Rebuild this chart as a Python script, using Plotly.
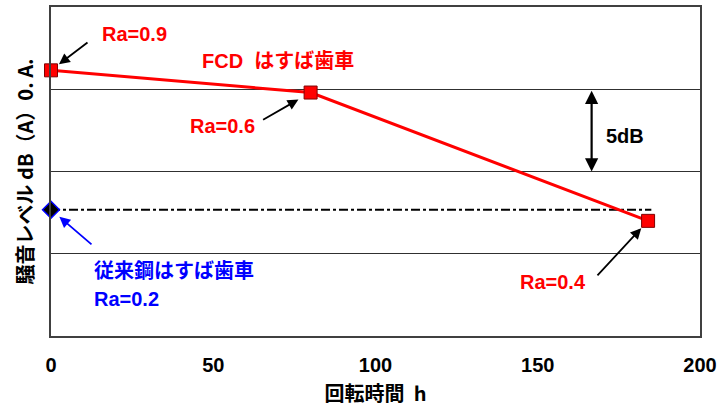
import plotly.graph_objects as go

# ---- data ----
fcd_hours = [0, 80, 184]
fcd_level = [16.15, 14.8, 7.0]
fcd_ra = ["Ra=0.9", "Ra=0.6", "Ra=0.4"]

conv_hours = [0]
conv_level = [7.68]
conv_ref_hours = [0, 185]
conv_ref_level = [7.68, 7.68]

x_ticks = [0, 50, 100, 150, 200]
y_grid = [0, 5, 10, 15, 20]

JP = "Liberation Sans, Noto Sans CJK JP"
JPB = "Noto Sans CJK JP"
RED = "#ff0000"
BLUE = "#0000ff"

fig = go.Figure()

fig.add_trace(go.Scatter(
    x=conv_ref_hours, y=conv_ref_level, mode="lines",
    line=dict(color="black", width=2, dash="dashdot"),
    showlegend=False, hoverinfo="skip"))

fig.add_trace(go.Scatter(
    x=fcd_hours, y=fcd_level, mode="lines+markers",
    line=dict(color=RED, width=3),
    marker=dict(symbol="square", size=13, color=RED,
                line=dict(color="#800000", width=1)),
    showlegend=False, cliponaxis=False))

fig.add_trace(go.Scatter(
    x=conv_hours, y=conv_level, mode="markers",
    marker=dict(symbol="diamond", size=13, color="black",
                line=dict(color=BLUE, width=1.5)),
    showlegend=False, cliponaxis=False))

ann = []
# arrows for FCD points (tail offsets in px)
arrow_offsets = [(38, -29, 10), (-49, 28, 14), (-52, 56, 10)]
for xv, yv, (ax, ay, so) in zip(fcd_hours, fcd_level, arrow_offsets):
    ann.append(dict(x=xv, y=yv, ax=ax, ay=ay, xref="x", yref="y",
                    showarrow=True, arrowhead=2, arrowsize=1.2,
                    arrowwidth=1.8, arrowcolor="black", standoff=so, text=""))
# Ra labels
ra_pos = [(25.6, 18.35), (52.7, 12.74), (154.7, 3.31)]
for (xv, yv), t in zip(ra_pos, fcd_ra):
    ann.append(dict(x=xv, y=yv, text=t, showarrow=False,
                    font=dict(family=JP, size=20, color=RED, weight="bold")))
ann.append(dict(x=69.8, y=16.7, text="FCD  はすば歯車", showarrow=False,
                font=dict(family=JP, size=20, color=RED, weight="bold")))
# conventional
ann.append(dict(x=conv_hours[0], y=conv_level[0], ax=42, ay=36, showarrow=True,
                arrowhead=2, arrowsize=1.2, arrowwidth=1.8, arrowcolor=BLUE,
                standoff=11, text=""))
ann.append(dict(x=12.6, y=3.98, xanchor="left", text="従来鋼はすば歯車",
                showarrow=False,
                font=dict(family=JP, size=20, color=BLUE, weight="bold")))
ann.append(dict(x=12.6, y=2.26, xanchor="left", text="Ra=0.2",
                showarrow=False,
                font=dict(family=JP, size=20, color=BLUE, weight="bold")))
# 5dB scale arrow
ann.append(dict(x=166.6, y=10, ax=166.6, ay=15, axref="x", ayref="y",
                showarrow=True, arrowhead=2, startarrowhead=2, arrowside="end+start",
                arrowsize=1.2, arrowwidth=2.2, arrowcolor="black", text=""))
ann.append(dict(x=170.4, y=12.13, xanchor="left", text="5dB", showarrow=False,
                font=dict(family=JP, size=20, color="black", weight="bold")))

fig.update_layout(
    width=725, height=407,
    margin=dict(l=51, r=25, t=7, b=71),
    paper_bgcolor="white", plot_bgcolor="white",
    annotations=ann,
    xaxis=dict(range=[0, 200], tickvals=x_ticks, ticks="", showgrid=False,
               zeroline=False, showline=True, linecolor="#404040", linewidth=2,
               mirror=True, ticklabelstandoff=10, automargin=False,
               tickfont=dict(family="Liberation Sans", size=20, color="black", weight="bold"),
               title=dict(text="回転時間  h", standoff=12,
                          font=dict(family=JPB, size=20, color="black", weight="bold"))),
    yaxis=dict(range=[0, 20], tickvals=y_grid, showticklabels=False, ticks="",
               showgrid=True, gridcolor="#303030", gridwidth=1, zeroline=False,
               showline=True, linecolor="#404040", linewidth=2, mirror=True,
               automargin=False,
               title=dict(text="騒音レベル dB（A）0. A.", standoff=10,
                          font=dict(family=JPB, size=20, color="black", weight="bold"))),
)

fig.write_html("out.html", config={"displayModeBar": False},
               post_script="document.body.style.margin='0';document.body.style.overflow='hidden';")
